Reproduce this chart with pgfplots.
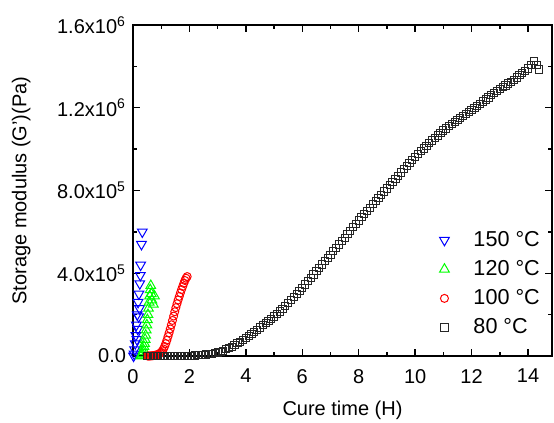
\documentclass[border=0pt]{standalone}
\usepackage{fontspec}
\setmainfont{Liberation Sans}
\usepackage{pgfplots}
\pgfplotsset{compat=1.18}
\pgfplotsset{myleg/.style={legend image code/.code={\path[draw=none,fill=none] (0cm,0cm) -- (0.72cm,0cm); \draw[##1] plot[only marks] coordinates {(0.28cm,0cm)};}}}
\begin{document}
\begin{tikzpicture}
\begin{axis}[
  scale only axis, width=209.5pt, height=165.5pt,
  xmin=0, xmax=14.85, ymin=0, ymax=16,
  xtick={0,2,...,14}, minor x tick num=1,
  ytick={0,4,8,12,16}, minor y tick num=1,
  yticklabels={0.0,4.0x10\textsuperscript{5},8.0x10\textsuperscript{5},1.2x10\textsuperscript{6},1.6x10\textsuperscript{6}},
  tick align=inside, major tick length=3.5pt, minor tick length=2pt,
  axis line style={line width=0.8pt}, every tick/.style={line width=0.7pt, black},
  /pgf/number format/assume math mode=true,
  tick label style={font=\fontsize{10}{12}\selectfont},
  xticklabel style={yshift=-3pt},
  label style={font=\fontsize{10}{12}\selectfont},
  xlabel={Cure time (H)}, ylabel={Storage modulus (G')(Pa)},
  xlabel style={at={(axis description cs:0.5,-0.165)}, anchor=center},
  ylabel style={at={(axis description cs:-0.267,0.5)}, anchor=center},
  legend style={draw=none, fill=none, at={(axis description cs:0.69,0.218)}, anchor=west, font=\fontsize{10.8}{13}\selectfont, row sep=1.5pt},
  legend cell align=left,
]
\addplot[only marks, myleg, blue, mark=triangle, mark size=2.8pt, mark options={rotate=180, line width=0.5pt}] table {
0.02 0
0.04 0.1
0.06 0.3
0.08 0.6
0.10 1.0
0.12 1.5
0.14 0.8
0.15 2.0
0.17 1.3
0.18 2.6
0.20 1.9
0.21 3.0
0.23 2.3
0.24 3.5
0.26 3.9
0.27 4.4
0.30 5.4
0.33 6.0
};
\addlegendentry{150 °C}
\addplot[only marks, myleg, green, mark=triangle, mark size=2.8pt, mark options={line width=0.5pt}] table {
0.27 0
0.29 0.02
0.31 0.05
0.33 0.1
0.35 0.2
0.37 0.3
0.39 0.45
0.41 0.6
0.43 0.8
0.45 1.0
0.47 1.25
0.49 1.5
0.51 1.75
0.53 2.0
0.55 2.3
0.57 2.6
0.59 2.9
0.61 3.2
0.63 3.4
0.65 3.0
0.67 2.7
0.72 2.5
0.76 2.9
};
\addlegendentry{120 °C}
\addplot[only marks, myleg, red, mark=o, mark size=2pt, mark options={line width=0.5pt}] table {
0.52 0.00
0.56 0.00
0.60 0.00
0.64 0.01
0.68 0.01
0.72 0.02
0.76 0.03
0.80 0.04
0.84 0.05
0.88 0.07
0.92 0.10
0.96 0.13
1.00 0.18
1.04 0.25
1.08 0.34
1.12 0.46
1.16 0.60
1.20 0.76
1.24 0.94
1.28 1.12
1.32 1.31
1.36 1.51
1.40 1.72
1.44 1.93
1.48 2.14
1.52 2.34
1.56 2.53
1.60 2.71
1.64 2.88
1.68 3.05
1.72 3.21
1.76 3.36
1.80 3.51
1.84 3.65
1.88 3.76
1.92 3.84
};
\addlegendentry{100 °C}
\addplot[only marks, myleg, black!85, mark=square, mark size=1.8pt, mark options={line width=0.5pt}] table {
0.5 0
0.6 0
0.7 0
0.8 0
0.9 0
1.0 0
1.1 0
1.2 0
1.3 0.005
1.4 0.005
1.5 0.005
1.6 0.005
1.7 0.005
1.8 0.005
1.9 0.01
2.0 0.01
2.1 0.015
2.2 0.02
2.3 0.03
2.4 0.04
2.5 0.05
2.6 0.07
2.7 0.09
2.8 0.11
2.9 0.14
3.0 0.17
3.1 0.21
3.2 0.26
3.3 0.32
3.4 0.38
3.5 0.45
3.6 0.53
3.7 0.61
3.8 0.69
3.9 0.78
4.0 0.87
4.1 0.97
4.2 1.07
4.3 1.17
4.4 1.27
4.5 1.38
4.6 1.48
4.7 1.59
4.8 1.69
4.9 1.80
5.0 1.91
5.1 2.03
5.2 2.15
5.3 2.28
5.4 2.41
5.5 2.55
5.6 2.70
5.7 2.85
5.8 3.00
5.9 3.15
6.0 3.30
6.1 3.46
6.2 3.62
6.3 3.78
6.4 3.94
6.5 4.10
6.6 4.26
6.7 4.42
6.8 4.58
6.9 4.74
7.0 4.90
7.1 5.06
7.2 5.23
7.3 5.39
7.4 5.56
7.5 5.72
7.6 5.89
7.7 6.05
7.8 6.22
7.9 6.38
8.0 6.55
8.1 6.71
8.2 6.86
8.3 7.02
8.4 7.17
8.5 7.33
8.6 7.48
8.7 7.64
8.8 7.79
8.9 7.95
9.0 8.10
9.1 8.25
9.2 8.41
9.3 8.56
9.4 8.72
9.5 8.87
9.6 9.02
9.7 9.17
9.8 9.32
9.9 9.47
10.0 9.62
10.1 9.76
10.2 9.90
10.3 10.03
10.4 10.17
10.5 10.30
10.6 10.42
10.7 10.54
10.8 10.66
10.9 10.78
11.0 10.90
11.1 11.00
11.2 11.11
11.3 11.21
11.4 11.32
11.5 11.42
11.6 11.52
11.7 11.61
11.8 11.71
11.9 11.80
12.0 11.90
12.1 12.00
12.2 12.10
12.3 12.20
12.4 12.30
12.5 12.40
12.6 12.50
12.7 12.60
12.8 12.70
12.9 12.80
13.0 12.90
13.1 12.99
13.2 13.08
13.3 13.17
13.4 13.26
13.5 13.35
13.6 13.46
13.7 13.57
13.8 13.68
13.9 13.79
14.0 13.90
14.1 14.05
14.2 14.25
14.3 14.05
14.4 13.85
};
\addlegendentry{80 °C}
\coordinate (sw) at (rel axis cs:0,0);
\coordinate (ne) at (rel axis cs:1,1);
\end{axis}
\pgfresetboundingbox
\useasboundingbox ([xshift=-66.5pt,yshift=-33pt]sw) rectangle ([xshift=1pt,yshift=12.5pt]ne);
\end{tikzpicture}
\end{document}
